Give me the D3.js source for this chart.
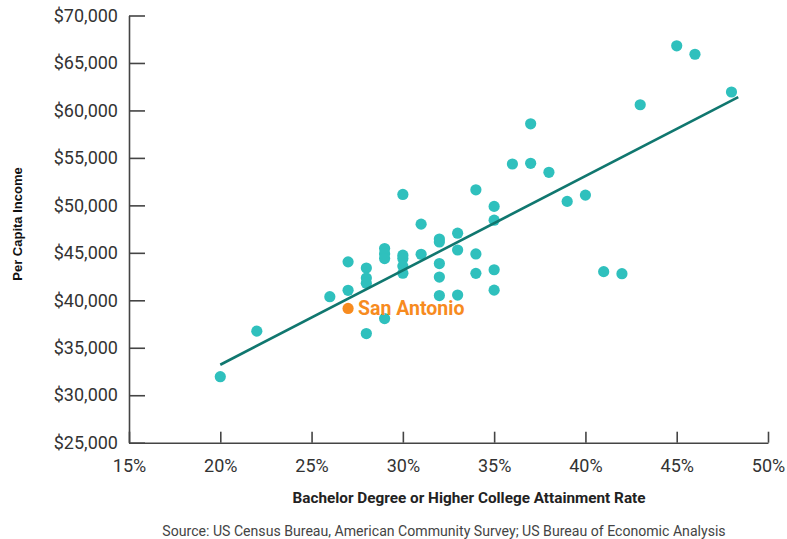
<html>
<head>
  <script src="https://d3js.org/d3.v7.min.js"></script>
  <style>
    body { margin: 0; background: #fff; }
    .axis text { font-family: Roboto, sans-serif; font-size: 18px; fill: #333; }
    .axis path, .axis line { stroke: #444; stroke-width: 1.6; }
  </style>
</head>
<body>
<svg id="scatter" width="787" height="539"></svg>

<script>

  // attainment rate (%) and per capita income for each metro area
  const rates = [20, 22, 26, 27, 27, 28, 28, 28, 28, 29, 29, 29, 29,
                 30, 30, 30, 30, 30, 31, 31, 32, 32, 32, 32, 32,
                 33, 33, 33, 34, 34, 34, 35, 35, 35, 35,
                 36, 37, 37, 38, 39, 40, 41, 42, 43, 45, 46, 48];
  const incomes = [31950, 36750, 40380, 44050, 41050, 43400, 42350, 41800, 36500, 45450, 44900, 44400, 38080,
                   51150, 44750, 44400, 43600, 42850, 48020, 44850, 46450, 46150, 43870, 42450, 40500,
                   47070, 45300, 40550, 51640, 44880, 42840, 49890, 48440, 43220, 41070,
                   54360, 58590, 54430, 53480, 50420, 51080, 43020, 42800, 60600, 66810, 65920, 61940];

  // highlighted city
  const cityName = "San Antonio";
  const cityRate = 27;
  const cityIncome = 39140;

  // linear trend line end points
  const trendRates = [20, 48.37];
  const trendIncomes = [33210, 61410];

  const xTicks = [15, 20, 25, 30, 35, 40, 45, 50];
  const yTicks = [25000, 30000, 35000, 40000, 45000, 50000, 55000, 60000, 65000, 70000];

  const svg = d3.select("svg#scatter");

  const xScale = d3.scaleLinear().domain([15, 50]).range([129, 768]);
  const yScale = d3.scaleLinear().domain([25000, 70000]).range([442.7, 15.5]);

  let leftAxis = d3.axisLeft(yScale)
                   .tickValues(yTicks)
                   .tickFormat(d3.format("$,"))
                   .tickSizeInner(-16)
                   .tickSizeOuter(0)
                   .tickPadding(11);
  let bottomAxis = d3.axisBottom(xScale)
                     .tickValues(xTicks)
                     .tickFormat(d => d + "%")
                     .tickSizeInner(-11)
                     .tickSizeOuter(0)
                     .tickPadding(17);

  svg.append("g")
    .attr("class", "y axis")
    .attr("transform", "translate(" + xScale(15) + ",0)")
    .call(leftAxis);
  svg.append("g")
    .attr("class", "x axis")
    .attr("transform", "translate(0," + yScale(25000) + ")")
    .call(bottomAxis);

  let data = rates.map((r, i) => ({rate: r, income: incomes[i]}));

  let chart = svg.append("g").attr("id", "chart");

  chart.selectAll("circle.datapoint").data(data)
    .join("circle")
    .attr("class", "datapoint")
    .attr("cx", d => xScale(d.rate))
    .attr("cy", d => yScale(d.income))
    .attr("r", 5.6)
    .attr("fill", "#2fc0bd");

  chart.append("line")
    .attr("x1", xScale(trendRates[0]))
    .attr("y1", yScale(trendIncomes[0]))
    .attr("x2", xScale(trendRates[1]))
    .attr("y2", yScale(trendIncomes[1]))
    .attr("stroke", "#10776f")
    .attr("stroke-width", 2.6);

  chart.append("circle")
    .attr("cx", xScale(cityRate))
    .attr("cy", yScale(cityIncome))
    .attr("r", 5.6)
    .attr("fill", "#f78b1f");

  chart.append("text")
    .attr("x", xScale(cityRate) + 10)
    .attr("y", yScale(cityIncome) + 7)
    .attr("font-family", "Roboto, sans-serif")
    .attr("font-weight", "bold")
    .attr("font-size", "19.5px")
    .attr("fill", "#f78b1f")
    .text(cityName);

  // axis titles and source
  svg.append("text")
    .attr("x", 469)
    .attr("y", 503)
    .attr("text-anchor", "middle")
    .attr("font-family", "Roboto, sans-serif")
    .attr("font-weight", "bold")
    .attr("font-size", "15.3px")
    .attr("fill", "#222")
    .text("Bachelor Degree or Higher College Attainment Rate");

  svg.append("text")
    .attr("transform", "translate(22,224) rotate(-90)")
    .attr("text-anchor", "middle")
    .attr("font-family", "'Liberation Sans', Arial, sans-serif")
    .attr("font-weight", "bold")
    .attr("font-size", "13px")
    .attr("fill", "#111")
    .text("Per Capita Income");

  svg.append("text")
    .attr("x", 444)
    .attr("y", 536)
    .attr("text-anchor", "middle")
    .attr("font-family", "Roboto, sans-serif")
    .attr("font-size", "14.1px")
    .attr("fill", "#444")
    .text("Source:  US Census Bureau, American Community Survey; US Bureau of Economic Analysis");

</script>
</body>
</html>
